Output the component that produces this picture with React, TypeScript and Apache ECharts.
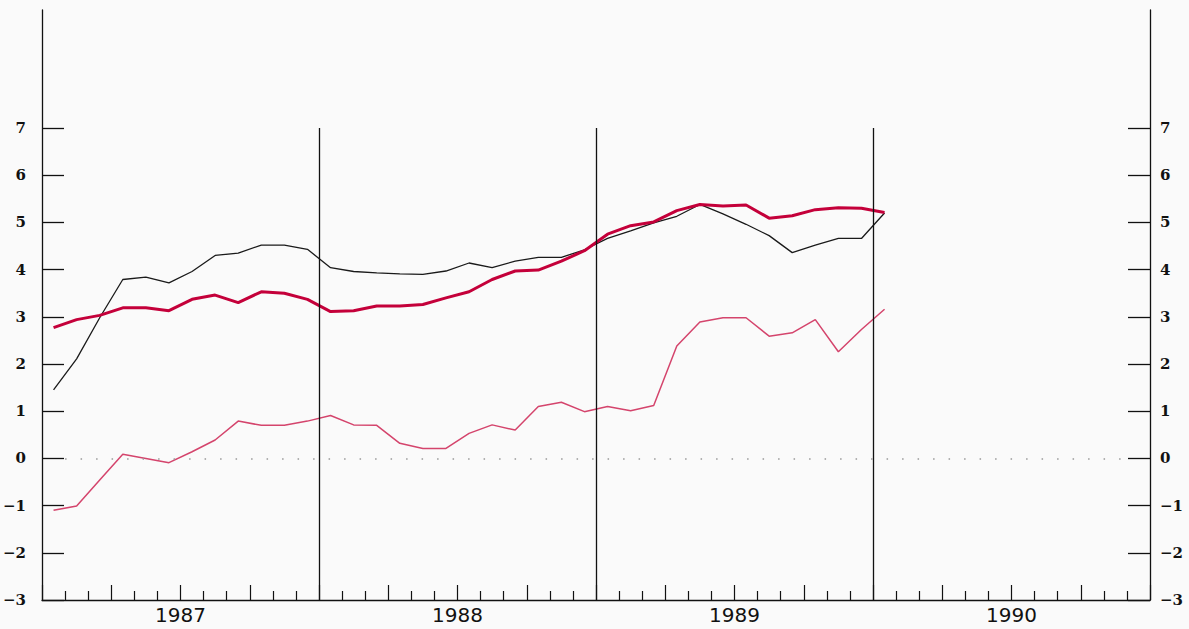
import React, { useEffect, useRef } from "react";
import * as echarts from "echarts";

// Monthly observations, Jan 1987 .. Jan 1990 (37 months)
const years = ["1987", "1988", "1989", "1990"];
const yTickValues = [-3, -2, -1, 0, 1, 2, 3, 4, 5, 6, 7];

const seriesBlack = [
  1.45, 2.11, 2.98, 3.79, 3.84, 3.72, 3.96, 4.30, 4.35, 4.52, 4.52, 4.43,
  4.04, 3.96, 3.93, 3.91, 3.90, 3.97, 4.14, 4.04, 4.18, 4.26, 4.26, 4.42,
  4.66, 4.82, 4.99, 5.13, 5.38, 5.18, 4.96, 4.72, 4.36, 4.52, 4.66, 4.66,
  5.20,
];
const seriesRed = [
  2.77, 2.94, 3.03, 3.19, 3.19, 3.13, 3.37, 3.46, 3.30, 3.53, 3.50, 3.37,
  3.11, 3.13, 3.23, 3.23, 3.26, 3.40, 3.53, 3.79, 3.97, 3.99, 4.18, 4.40,
  4.75, 4.93, 5.01, 5.25, 5.38, 5.35, 5.37, 5.09, 5.14, 5.27, 5.31, 5.30,
  5.21,
];
const seriesPink = [
  -1.10, -1.01, -0.46, 0.09, 0.0, -0.09, 0.14, 0.39, 0.79, 0.70, 0.70, 0.79,
  0.91, 0.71, 0.70, 0.32, 0.21, 0.21, 0.53, 0.71, 0.60, 1.10, 1.19, 0.99,
  1.10, 1.01, 1.12, 2.38, 2.89, 2.98, 2.98, 2.59, 2.66, 2.94, 2.26, 2.73,
  3.16,
];

const toPairs = (vals: number[]) => vals.map((v, i) => [i + 0.5, v]);

export default function App() {
  const ref = useRef<HTMLDivElement>(null);
  useEffect(() => {
    if (!ref.current) return;
    const chart = echarts.init(ref.current, null, { renderer: "svg" });
    const yLabelFmt = (v: number) => (v <= 7 ? String(v).replace("-", "\u2212") : "");
    const yAxisBase = {
      type: "value",
      min: -3,
      max: 9.5,
      interval: 1,
      splitLine: { show: false },
      axisLine: { show: true, onZero: false, lineStyle: { color: "#111", width: 1.3 } },
      axisTick: {
        show: true,
        inside: true,
        length: 22,
        customValues: yTickValues,
        lineStyle: { color: "#111", width: 1.3 },
      },
      axisLabel: {
        customValues: yTickValues,
        formatter: yLabelFmt,
        color: "#111",
        fontFamily: "DejaVu Serif",
        fontWeight: "bold",
        fontSize: 15,
      },
    };
    const option = {
      animation: false,
      backgroundColor: "#fafafa",
      grid: { left: 40, right: 39, top: 10, bottom: 29, containLabel: false },
      xAxis: {
        type: "value",
        min: 0,
        max: 48,
        interval: 3,
        splitLine: { show: false },
        axisLine: { show: true, onZero: false, lineStyle: { color: "#111", width: 1.3 } },
        axisTick: { show: true, inside: true, length: 15, lineStyle: { color: "#111", width: 1.2 } },
        minorTick: { show: true, splitNumber: 3, length: 9, lineStyle: { color: "#111", width: 1.2 } },
        minorSplitLine: { show: false },
        axisLabel: {
          formatter: (v: number) => (v % 12 === 6 ? years[Math.floor(v / 12)] : ""),
          color: "#111",
          fontFamily: "DejaVu Sans",
          fontSize: 20,
          margin: 5,
        },
      },
      yAxis: [
        { ...yAxisBase, position: "left", axisLabel: { ...yAxisBase.axisLabel, margin: 16 } },
        { ...yAxisBase, position: "right", axisLabel: { ...yAxisBase.axisLabel, margin: 10 } },
      ],
      series: [
        {
          type: "line",
          data: toPairs(seriesBlack),
          showSymbol: false,
          lineStyle: { color: "#1a1a1a", width: 1.3 },
          z: 3,
          markLine: {
            silent: true,
            symbol: "none",
            label: { show: false },
            lineStyle: { color: "#111", width: 1.3, type: "solid" },
            data: [
              [{ coord: [12, 7] }, { coord: [12, -3] }],
              [{ coord: [24, 7] }, { coord: [24, -3] }],
              [{ coord: [36, 7] }, { coord: [36, -3] }],
            ],
          },
        },
        {
          type: "line",
          data: toPairs(seriesRed),
          showSymbol: false,
          lineStyle: { color: "#c4003a", width: 3 },
          z: 4,
          markLine: {
            silent: true,
            symbol: "none",
            label: { show: false },
            lineStyle: { color: "#999", width: 1.6, type: [1.5, 14] },
            data: [[{ coord: [1.0, 0] }, { coord: [47.3, 0] }]],
          },
        },
        {
          type: "line",
          data: toPairs(seriesPink),
          showSymbol: false,
          lineStyle: { color: "#d4446c", width: 1.5 },
          z: 2,
        },
      ],
    };
    chart.setOption(option as any);
    return () => chart.dispose();
  }, []);
  return (
    <div
      ref={ref}
      style={{ position: "absolute", left: 0, top: 0, width: 1189, height: 629 }}
    />
  );
}
